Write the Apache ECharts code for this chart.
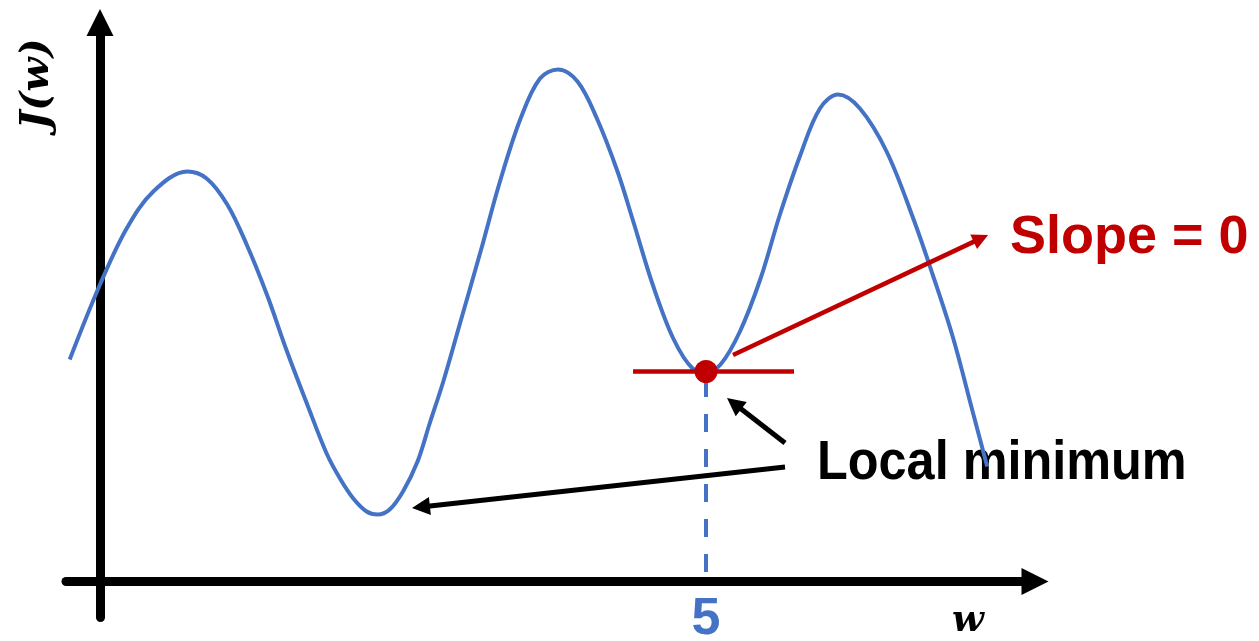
<!DOCTYPE html>
<html>
<head>
<meta charset="utf-8">
<script src="https://cdn.jsdelivr.net/npm/echarts@6/dist/echarts.min.js"></script>
<style>
html,body{margin:0;padding:0;background:#fff;}
#chart{width:1259px;height:641px;}
</style>
</head>
<body>
<div id="chart"></div>
<script>
// ---- data (w, J(w)) ----
const curve = [
  [-0.25,2.22],[0,2.97],[0.22,3.53],[0.44,3.90],[0.72,4.10],[0.88,4.03],[1.05,3.77],
  [1.21,3.37],[1.38,2.86],[1.54,2.31],[1.71,1.77],[1.87,1.28],[1.98,1.03],[2.09,0.83],
  [2.20,0.70],[2.29,0.67],[2.39,0.72],[2.50,0.90],[2.62,1.20],[2.72,1.58],[2.83,1.99],
  [2.97,2.58],[3.14,3.30],[3.30,4.00],[3.47,4.63],[3.63,5.03],[3.78,5.12],[3.94,5.00],
  [4.10,4.63],[4.27,4.10],[4.40,3.60],[4.56,2.97],[4.73,2.43],[4.89,2.13],[5.00,2.10],
  [5.12,2.17],[5.28,2.50],[5.45,3.03],[5.61,3.67],[5.78,4.27],[5.94,4.73],[6.09,4.87],
  [6.27,4.73],[6.49,4.30],[6.71,3.63],[6.87,3.07],[7.04,2.43],[7.20,1.70],[7.32,1.15]
];
const minPoint = [5, 2.10];
const tickLabels = [5];
const dropLine = [[5, 0.095], [5, 2.10]];
const tangentLine = [[4.398, 2.10], [5.726, 2.10]];
const slopeArrow = [[5.223, 2.265], [7.268, 3.431]];
const minArrows = [
  [[5.652, 1.385], [5.232, 1.78]],
  [[5.652, 1.145], [2.648, 0.745]]
];
const xRange = [-0.2805, 7.7145];
const yRange = [-0.36, 5.59];

const BLUE = '#4472C4', RED = '#C00000';
const chart = echarts.init(document.getElementById('chart'), null, {renderer: 'canvas'});
chart.setOption({
  animation: false,
  backgroundColor: '#ffffff',
  grid: {left: 66, right: 224, top: 22.5, bottom: 23.5, containLabel: false, outerBoundsMode: 'none'},
  xAxis: {
    type: 'value', min: xRange[0], max: xRange[1],
    splitLine: {show: false},
    axisTick: {show: false},
    axisLine: {show: true, onZero: true, symbol: ['none', 'triangle'], symbolSize: [27, 27],
      lineStyle: {color: '#000', width: 9}},
    axisLabel: {
      customValues: tickLabels,
      formatter: v => (tickLabels.indexOf(v) >= 0 ? String(v) : ''),
      color: BLUE, fontSize: 52, fontWeight: 'bold', fontFamily: 'Liberation Sans',
      margin: -24, showMinLabel: false, showMaxLabel: false
    }
  },
  yAxis: {
    type: 'value', min: yRange[0], max: yRange[1],
    splitLine: {show: false},
    axisTick: {show: false},
    axisLabel: {show: false},
    axisLine: {show: true, onZero: true, symbol: ['none', 'triangle'], symbolSize: [27, 27],
      lineStyle: {color: '#000', width: 9}}
  },
  series: [
    {
      type: 'line', data: curve, showSymbol: false, smooth: 0.35, z: 3,
      lineStyle: {color: BLUE, width: 4}
    },
    {
      type: 'line', data: dropLine, showSymbol: false, z: 2,
      lineStyle: {color: BLUE, width: 4, type: [18, 17]}
    },
    {
      type: 'line', data: tangentLine, showSymbol: false, z: 4,
      lineStyle: {color: RED, width: 4.5}
    },
    {
      type: 'scatter', data: [minPoint], symbolSize: 23, z: 6,
      itemStyle: {color: RED, opacity: 1}
    },
    {
      type: 'lines', coordinateSystem: 'cartesian2d', z: 5,
      symbol: ['none', 'triangle'], symbolSize: 16,
      lineStyle: {color: RED, width: 4.5, opacity: 1},
      data: [{coords: slopeArrow}]
    },
    {
      type: 'lines', coordinateSystem: 'cartesian2d', z: 5,
      symbol: ['none', 'triangle'], symbolSize: 18,
      lineStyle: {color: '#000', width: 5, opacity: 1},
      data: minArrows.map(c => ({coords: c}))
    }
  ],
  graphic: [
    {type: 'text', x: 37.5, y: 84, rotation: Math.PI / 2,
      style: {text: 'J(w)', font: 'italic bold 40px "DejaVu Serif"', fill: '#000',
        align: 'center', verticalAlign: 'middle', textAlign: 'center', textVerticalAlign: 'middle'}},
    {type: 'text', x: 968, y: 621,
      style: {text: 'w', font: 'italic bold 37px "DejaVu Serif"', fill: '#000',
        align: 'center', verticalAlign: 'middle', textAlign: 'center', textVerticalAlign: 'middle'}},
    {type: 'text', x: 1010, y: 238,
      style: {text: 'Slope = 0', font: 'bold 54px "Liberation Sans"', fill: RED,
        align: 'left', verticalAlign: 'middle', textAlign: 'left', textVerticalAlign: 'middle'}},
    {type: 'text', x: 817, y: 464, scaleX: 0.9,
      style: {text: 'Local minimum', font: 'bold 56px "Liberation Sans"', fill: '#000',
        align: 'left', verticalAlign: 'middle', textAlign: 'left', textVerticalAlign: 'middle'}}
  ]
});
</script>
</body>
</html>
